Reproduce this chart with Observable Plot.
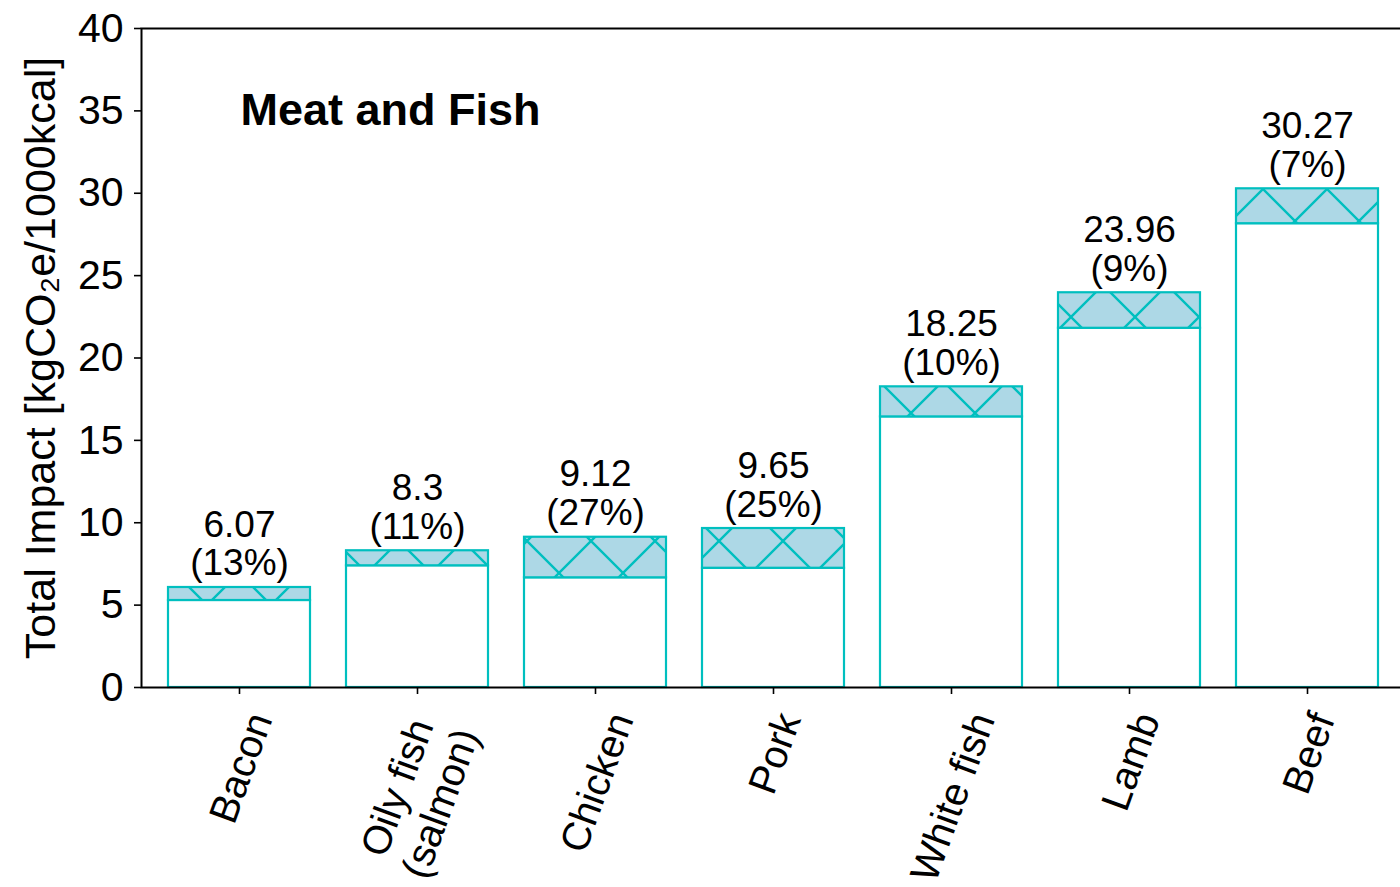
<!DOCTYPE html>
<html>
<head>
<meta charset="utf-8">
<script src="https://cdn.jsdelivr.net/npm/d3@7"></script>
<script src="https://cdn.jsdelivr.net/npm/@observablehq/plot@0.6"></script>
<style>
  html, body { margin: 0; padding: 0; background: #fff; overflow: hidden; }
</style>
</head>
<body>
<div id="chart"></div>
<script>
// ---- data ----
const categories = ["Bacon", "Oily fish\n(salmon)", "Chicken", "Pork", "White fish", "Lamb", "Beef"];
const totals = [6.07, 8.3, 9.12, 9.65, 18.25, 23.96, 30.27];
const shares = [13, 11, 27, 25, 10, 9, 7]; // % of total shown as hatched top part
const yTicks = [0, 5, 10, 15, 20, 25, 30, 35, 40];
const titleText = "Meat and Fish";
const yLabelText = "Total Impact [kgCO\u2082e/1000kcal]";

const data = categories.map((c, i) => ({
  cat: c,
  total: totals[i],
  share: shares[i],
  base: totals[i] * (1 - shares[i] / 100)
}));

const TEAL = "#00bfbf";
const FONT = "Liberation Sans, Arial, Helvetica, sans-serif";
const yTickFs = 41;
const xTickFs = 40;

// measure text widths for matplotlib-like centred rotated tick labels
const ctx = document.createElement("canvas").getContext("2d");
ctx.font = `${xTickFs}px "Liberation Sans"`;
const rad = 70 * Math.PI / 180;
function labelOffset(label) {
  const lines = label.split("\n");
  const w = Math.max(...lines.map(l => ctx.measureText(l).width));
  const H = ((lines.length - 1) * 1.15 + 1.117) * xTickFs;
  return 19 + (w * Math.sin(rad) + H * Math.cos(rad)) / 2;
}

const hatchDefs = () => {
  const ns = "http://www.w3.org/2000/svg";
  const defs = document.createElementNS(ns, "defs");
  defs.innerHTML = `<pattern id="hx" patternUnits="userSpaceOnUse" width="64" height="64" x="47" y="-3">
    <rect width="64" height="64" fill="#add8e6"/>
    <path d="M0,64L64,0M-8,8L8,-8M56,72L72,56M0,0L64,64M56,-8L72,8M-8,56L8,72" stroke="${TEAL}" stroke-width="2.4" fill="none"/>
  </pattern>`;
  return defs;
};

const tickLabelMarks = categories.map(c =>
  Plot.text([c], {
    x: d => d,
    frameAnchor: "bottom",
    dy: labelOffset(c),
    text: d => d,
    rotate: -70,
    textAnchor: "middle",
    lineAnchor: "middle",
    lineHeight: 1.15,
    fontSize: xTickFs,
    fill: "black"
  })
);

const chart = Plot.plot({
  width: 1400,
  height: 887,
  marginLeft: 141,
  marginRight: -5,
  marginTop: 28,
  marginBottom: 200,
  style: { fontFamily: FONT, background: "white", color: "black", overflow: "hidden" },
  x: { type: "band", domain: categories, paddingInner: 0.2, paddingOuter: 0.15, label: null },
  y: { domain: [0, 40], label: null },
  marks: [
    hatchDefs,
    Plot.barY(data, { x: "cat", y1: 0, y2: "base", fill: "white", stroke: TEAL, strokeWidth: 2.2 }),
    Plot.barY(data, { x: "cat", y1: "base", y2: "total", fill: "url(#hx)", stroke: TEAL, strokeWidth: 2.2 }),
    Plot.frame({ stroke: "black", strokeWidth: 2 }),
    Plot.axisY({ ticks: yTicks, tickSize: 7, tickPadding: 11, fontSize: yTickFs, label: null, strokeWidth: 1.6 }),
    Plot.axisX({ tickSize: 7, tickFormat: () => "", label: null, strokeWidth: 1.6 }),
    ...tickLabelMarks,
    Plot.text(data, {
      x: "cat", y: "total",
      text: d => `${d.total}\n(${d.share}%)`,
      lineAnchor: "bottom", textAnchor: "middle",
      lineHeight: 1.05, dy: -12, fontSize: 37, fill: "black"
    }),
    Plot.text([titleText], {
      frameAnchor: "top-left", dx: 99, dy: 65,
      textAnchor: "start", lineAnchor: "top",
      fontSize: 45, fontWeight: "bold", fill: "black"
    }),
    Plot.text([yLabelText], {
      frameAnchor: "left", dx: -100, rotate: -90,
      textAnchor: "middle", lineAnchor: "middle",
      fontSize: 43, fill: "black"
    })
  ]
});

document.getElementById("chart").appendChild(chart);
</script>
</body>
</html>
